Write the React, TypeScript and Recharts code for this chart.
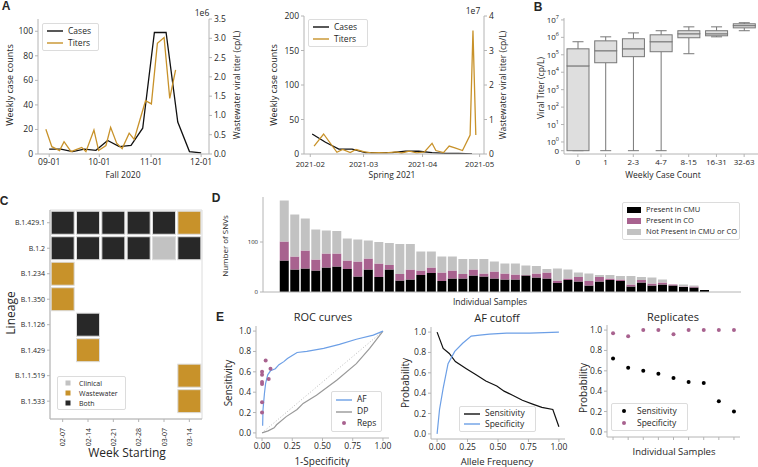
import {
  ComposedChart,
  BarChart,
  ScatterChart,
  Line,
  Bar,
  Scatter,
  XAxis,
  YAxis,
  ReferenceLine,
  ReferenceArea,
} from 'recharts';

const FONT = '"Open Sans", "DejaVu Sans", sans-serif';
const INK = '#262626';
const SPINE = '#b4b4b4';
const ORANGE = '#c8922a';
const PURPLE = '#a8628f';
const BLUE = '#6c9fe6';
const DARK = '#282828';
const LIGHT = '#c2c2c2';

// ---- A: fall 2020 (x = days since 2020-09-01)
const fallCaseDays = [0, 7, 14, 21, 28, 35, 42, 49, 56, 63, 70, 77, 84, 91];
const fallCases = [4, 4, 2, 4, 3, 11, 6, 7, 21, 99, 99, 26, 2, 1];
const fallTiterDays = [-2, 1.6, 6.2, 8.9, 13.1, 16.5, 19.5, 22, 26.8, 29.6, 34, 36.8, 40.4, 43.7, 47.9, 50.9, 54.3, 57.7, 61.2, 64.8, 68.8, 72.2, 75.7];
const fallTitersE6 = [0.64, 0.19, 0.09, 0.32, 0.06, 0.12, 0.17, 0.06, 0.62, 0.09, 0.22, 0.69, 0.28, 0.14, 0.54, 0.38, 0.88, 1.38, 1.3, 2.87, 3.02, 1.44, 2.18];
const fallTickDays = [0, 30, 61, 91];
const fallTickLabels = ['09-01', '10-01', '11-01', '12-01'];

// ---- A: spring 2021 (x = days since 2021-02-01)
const springCaseDays = [1, 8, 15, 22, 29, 36, 43, 50, 57, 64, 71, 78, 85];
const springCases = [29, 17, 7, 7, 2, 2, 2, 4, 4, 2, 1, 1, 0];
const springTiterDays = [2, 7, 14, 17, 21, 24, 28, 32, 36, 40, 45, 48, 52, 56, 60, 64, 66, 70, 73, 76, 80, 84, 85.5, 87];
const springTitersE7 = [0.23, 0.58, 0.05, 0.13, 0.04, 0.13, 0.07, 0.03, 0.04, 0.03, 0.06, 0.03, 0.08, 0.03, 0.06, 0.31, 0.1, 0.04, 0.23, 0.18, 0.1, 0.55, 3.58, 0.55];
const springTickDays = [0, 28, 59, 89];
const springTickLabels = ['2021-02', '2021-03', '2021-04', '2021-05'];

// ---- B: viral titer (cp/L) by weekly case count
const caseBins = ['0', '1', '2-3', '4-7', '8-15', '16-31', '32-63'];
const titerMin = [0, 0, 0, 0, 1.15e5, 1.07e6, 2.4e6];
const titerQ1 = [0, 3.5e4, 7.8e4, 1.5e5, 9.5e5, 1.23e6, 3.5e6];
const titerMedian = [2.3e4, 1.7e5, 2.2e5, 5.6e5, 1.6e6, 1.6e6, 4.7e6];
const titerQ3 = [2.2e5, 6.3e5, 8.3e5, 1.4e6, 2.4e6, 2.4e6, 6e6];
const titerMax = [5.6e5, 1.07e6, 1.8e6, 2.4e6, 4e6, 4e6, 6.9e6];

// ---- C: lineage detections
const lineages = ['B.1.429.1', 'B.1.2', 'B.1.234', 'B.1.350', 'B.1.126', 'B.1.429', 'B.1.1.519', 'B.1.533'];
const weeks = ['02-07', '02-14', '02-21', '02-28', '03-07', '03-14'];
// one letter per week: B = both, W = wastewater, C = clinical, . = none
const detections = ['BBBBBW', 'BBBBCB', 'W.....', 'W.....', '.B....', '.W....', '.....W', '.....W'];

// ---- D: SNVs per sample
const snvCmu = [63, 45, 47, 43, 49, 51, 46, 31, 45, 30, 45, 23, 25, 34, 38, 22, 27, 27, 33, 31, 27, 25, 25, 33, 29, 27, 18, 24, 21, 13, 21, 24, 22, 11, 19, 13, 15, 13, 10, 9, 4];
const snvCo = [38, 26, 36, 22, 28, 26, 17, 30, 22, 27, 9, 13, 20, 9, 11, 17, 16, 9, 12, 6, 14, 12, 10, 1, 8, 12, 5, 3, 9, 9, 9, 3, 3, 4, 5, 4, 4, 2, 1, 2, 0];
const snvOther = [82, 84, 64, 60, 46, 45, 44, 44, 36, 43, 44, 60, 51, 38, 32, 32, 28, 30, 21, 29, 20, 20, 22, 19, 15, 7, 24, 18, 9, 15, 4, 7, 7, 17, 6, 12, 6, 0, 4, 2, 0];

// ---- E: ROC curves
const afFpr = [0.005, 0.008, 0.02, 0.03, 0.047, 0.07, 0.11, 0.14, 0.18, 0.21, 0.25, 0.29, 0.37, 0.51, 0.64, 0.78, 0.92, 1.0];
const afTpr = [0.07, 0.23, 0.39, 0.49, 0.57, 0.61, 0.63, 0.67, 0.7, 0.73, 0.76, 0.79, 0.8, 0.83, 0.87, 0.92, 0.96, 1.0];
const dpFpr = [0, 0.05, 0.1, 0.12, 0.2, 0.29, 0.34, 0.45, 0.62, 0.78, 0.89, 1.0];
const dpTpr = [0, 0.02, 0.05, 0.08, 0.16, 0.23, 0.29, 0.37, 0.52, 0.68, 0.83, 1.0];
const repFpr = [0, 0, 0, 0, 0, 0, 0.03, 0.055, 0.07];
const repTpr = [0.2, 0.3, 0.48, 0.5, 0.57, 0.6, 0.71, 0.53, 0.63];

// ---- E: AF cutoff
const sensAf = [0, 0.05, 0.1, 0.15, 0.24, 0.32, 0.4, 0.49, 0.55, 0.62, 0.7, 0.79, 0.86, 0.95, 1.0];
const sensVal = [1.0, 0.84, 0.79, 0.71, 0.64, 0.58, 0.52, 0.47, 0.42, 0.38, 0.33, 0.29, 0.26, 0.24, 0.07];
const specAf = [0, 0.02, 0.05, 0.09, 0.145, 0.21, 0.28, 0.35, 0.43, 0.57, 0.76, 1.0];
const specVal = [0, 0.24, 0.45, 0.69, 0.81, 0.89, 0.96, 0.97, 0.98, 0.99, 0.99, 1.0];

// ---- E: replicates
const repSensitivity = [0.72, 0.63, 0.6, 0.57, 0.53, 0.49, 0.48, 0.3, 0.2];
const repSpecificity = [0.97, 0.94, 1.0, 1.0, 0.96, 1.0, 1.0, 1.0, 1.0];

const zip = (xs: number[], ys: number[]) => xs.map((x, i) => ({ x, y: ys[i] }));
const symlog = (v: number) => (v < 1 ? v * 0.5 : Math.log10(v) + 0.5);

const axis = (size: number) => ({
  axisLine: { stroke: SPINE },
  tickLine: { stroke: SPINE },
  tickSize: 3,
  tick: { fill: INK, fontSize: size },
  interval: 0 as const,
});

function Txt({ x, y, text, size = 9, rotate = false, weight = 400, family = FONT }: any) {
  return (
    <div
      style={{
        position: 'absolute',
        left: x,
        top: y,
        transform: `translate(-50%, -50%)${rotate ? ' rotate(-90deg)' : ''}`,
        fontSize: size,
        fontWeight: weight,
        fontFamily: family,
        whiteSpace: 'nowrap',
        lineHeight: 1,
      }}
    >
      {text}
    </div>
  );
}

type LegendItem = { label: string; color: string; mark: 'line' | 'dot' | 'square' | 'bar' };

function LegendBox({ left, top, width, height, items, size, markW = 16 }: any) {
  return (
    <div
      style={{
        position: 'absolute',
        left,
        top,
        width,
        height,
        boxSizing: 'border-box',
        border: '1px solid #dcdcdc',
        borderRadius: 2,
        background: '#fff',
        display: 'flex',
        flexDirection: 'column',
        justifyContent: 'space-evenly',
        padding: '0 4px',
        fontSize: size,
      }}
    >
      {(items as LegendItem[]).map((it) => (
        <div key={it.label} style={{ display: 'flex', alignItems: 'center', whiteSpace: 'nowrap', lineHeight: 1 }}>
          <svg width={markW} height={8} style={{ marginRight: 5, flex: 'none' }}>
            {it.mark === 'line' && <line x1={0} x2={markW} y1={4} y2={4} stroke={it.color} strokeWidth={1.4} />}
            {it.mark === 'dot' && <circle cx={markW / 2} cy={4} r={2} fill={it.color} />}
            {it.mark === 'square' && <rect x={markW / 2 - 2.5} y={1.5} width={5} height={5} fill={it.color} />}
            {it.mark === 'bar' && <rect x={0} y={1} width={markW} height={6} fill={it.color} />}
          </svg>
          {it.label}
        </div>
      ))}
    </div>
  );
}

function Panel({ left, top, children }: any) {
  return <div style={{ position: 'absolute', left, top }}>{children}</div>;
}

const WhiskerLow = (p: any) => {
  const cx = p.x + p.width / 2;
  const yb = p.y + p.height;
  return (
    <g>
      <line x1={cx} x2={cx} y1={p.y} y2={yb} stroke="#777" />
      <line x1={cx - p.width / 4} x2={cx + p.width / 4} y1={yb} y2={yb} stroke="#777" />
    </g>
  );
};
const WhiskerHigh = (p: any) => {
  const cx = p.x + p.width / 2;
  return (
    <g>
      <line x1={cx} x2={cx} y1={p.y} y2={p.y + p.height} stroke="#777" />
      <line x1={cx - p.width / 4} x2={cx + p.width / 4} y1={p.y} y2={p.y} stroke="#777" />
    </g>
  );
};
const BoxPart = (p: any) => <rect x={p.x} y={p.y} width={p.width} height={p.height} fill="#dedede" stroke="#777" />;

const LogTick = ({ x, y, payload }: any) => {
  const t = payload.value;
  if (t === 0)
    return (
      <text x={x} y={y} dy={3} textAnchor="end" fontSize={8} fill={INK}>
        0
      </text>
    );
  return (
    <text x={x} y={y} dy={3} textAnchor="end" fontSize={8} fill={INK}>
      10
      <tspan dy={-4} fontSize={5.5}>
        {Math.round(t - 0.5)}
      </tspan>
    </text>
  );
};

const WeekTick = ({ x, y, payload }: any) => (
  <g transform={`translate(${x},${y})`}>
    <text transform="rotate(-90)" x={-4} dy={2.5} textAnchor="end" fontSize={7} fill={INK}>
      {weeks[payload.value]}
    </text>
  </g>
);

const kindColor: Record<string, string> = { B: DARK, W: ORANGE, C: LIGHT };
const Cell = (p: any) => (
  <rect x={p.cx - 11.5} y={p.cy - 11.5} width={23} height={23} fill={kindColor[p.payload.kind]} stroke="#dcdcdc" strokeWidth={1} />
);
const Dot = (color: string) => (p: any) => <circle cx={p.cx} cy={p.cy} r={2} fill={color} />;

export default function App() {
  const fallCaseData = zip(fallCaseDays, fallCases);
  const fallTiterData = zip(fallTiterDays, fallTitersE6);
  const springCaseData = zip(springCaseDays, springCases);
  const springTiterData = zip(springTiterDays, springTitersE7);

  const boxRows = caseBins.map((bin, i) => ({
    bin,
    base: symlog(titerMin[i]),
    lowW: symlog(titerQ1[i]) - symlog(titerMin[i]),
    lowBox: symlog(titerMedian[i]) - symlog(titerQ1[i]),
    highBox: symlog(titerQ3[i]) - symlog(titerMedian[i]),
    highW: symlog(titerMax[i]) - symlog(titerQ3[i]),
  }));

  const cells = detections.flatMap((row, li) =>
    row.split('').map((k, wi) => ({ x: wi, y: li, kind: k })).filter((c) => c.kind !== '.')
  );

  const snvRows = snvCmu.map((c, i) => ({ idx: i, cmu: c, co: snvCo[i], other: snvOther[i] }));

  const probTicks = [0, 0.2, 0.4, 0.6, 0.8, 1.0];
  const fracTicks = [0, 0.25, 0.5, 0.75, 1.0];

  return (
    <div
      style={{
        position: 'absolute',
        left: 0,
        top: 0,
        width: 758,
        height: 467,
        background: '#fff',
        overflow: 'hidden',
        fontFamily: FONT,
        color: INK,
      }}
    >
      {/* A - fall 2020 */}
      <Panel left={0} top={0}>
        <ComposedChart width={240} height={175} margin={{ top: 19, right: 0, bottom: 0, left: 0 }}>
          <XAxis
            type="number"
            dataKey="x"
            domain={[-6.7, 95.7]}
            allowDataOverflow
            ticks={fallTickDays}
            tickFormatter={(v: number) => fallTickLabels[fallTickDays.indexOf(v)]}
            height={21}
            {...axis(8.5)}
          />
          <YAxis yAxisId="c" dataKey="y" domain={[0, 110]} allowDataOverflow ticks={[0, 20, 40, 60, 80, 100]} width={38} {...axis(8.5)} />
          <YAxis
            yAxisId="t"
            orientation="right"
            domain={[0, 3.5]}
            allowDataOverflow
            ticks={[0, 0.5, 1, 1.5, 2, 2.5, 3, 3.5]}
            tickFormatter={(v: number) => v.toFixed(1)}
            width={31}
            {...axis(8.5)}
          />
          <Line yAxisId="c" data={fallCaseData} dataKey="y" stroke="#111" strokeWidth={1.3} dot={false} isAnimationActive={false} />
          <Line yAxisId="t" data={fallTiterData} dataKey="y" stroke={ORANGE} strokeWidth={1.3} dot={false} isAnimationActive={false} />
        </ComposedChart>
      </Panel>
      <LegendBox
        left={42}
        top={23}
        width={57}
        height={28}
        size={8.5}
        items={[
          { label: 'Cases', color: '#111', mark: 'line' },
          { label: 'Titers', color: ORANGE, mark: 'line' },
        ]}
      />
      <Txt x={9} y={85} text="Weekly case counts" rotate size={9} />
      <Txt x={237} y={85} text="Wastewater viral titer (cp/L)" rotate size={8.5} />
      <Txt x={202} y={13} text="1e6" size={8.5} />
      <Txt x={123} y={175} text="Fall 2020" size={8.5} />

      {/* A - spring 2021 */}
      <Panel left={255} top={0}>
        <ComposedChart width={244} height={175} margin={{ top: 16, right: 0, bottom: 0, left: 0 }}>
          <XAxis
            type="number"
            dataKey="x"
            domain={[-3.3, 91.3]}
            allowDataOverflow
            ticks={springTickDays}
            tickFormatter={(v: number) => springTickLabels[springTickDays.indexOf(v)]}
            height={21}
            {...axis(7.8)}
            tickMargin={4}
          />
          <YAxis yAxisId="c" dataKey="y" domain={[0, 200]} allowDataOverflow ticks={[0, 50, 100, 150, 200]} width={49} {...axis(8.5)} />
          <YAxis yAxisId="t" orientation="right" domain={[0, 4]} allowDataOverflow ticks={[0, 1, 2, 3, 4]} width={15} {...axis(8.5)} />
          <Line yAxisId="c" data={springCaseData} dataKey="y" stroke="#111" strokeWidth={1.3} dot={false} isAnimationActive={false} />
          <Line yAxisId="t" data={springTiterData} dataKey="y" stroke={ORANGE} strokeWidth={1.3} dot={false} isAnimationActive={false} />
        </ComposedChart>
      </Panel>
      <LegendBox
        left={308}
        top={19}
        width={60}
        height={28}
        size={8.5}
        items={[
          { label: 'Cases', color: '#111', mark: 'line' },
          { label: 'Titers', color: ORANGE, mark: 'line' },
        ]}
      />
      <Txt x={273} y={85} text="Weekly case counts" rotate size={9} />
      <Txt x={503} y={85} text="Wastewater viral titer (cp/L)" rotate size={8.5} />
      <Txt x={473} y={11} text="1e7" size={8.5} />
      <Txt x={392} y={175} text="Spring 2021" size={8.5} />

      {/* B */}
      <Panel left={520} top={0}>
        <ComposedChart width={238} height={175} data={boxRows} margin={{ top: 18, right: 0, bottom: 0, left: 0 }}>
          <XAxis dataKey="bin" height={21} {...axis(8)} />
          <YAxis
            domain={[-0.19, 7.61]}
            allowDataOverflow
            ticks={[0, 0.5, 1.5, 2.5, 3.5, 4.5, 5.5, 6.5, 7.5]}
            width={44}
            {...axis(8)}
            tick={<LogTick />}
          />
          <Bar dataKey="base" stackId="b" barSize={22} fill="none" isAnimationActive={false} />
          <Bar dataKey="lowW" stackId="b" barSize={22} shape={WhiskerLow} isAnimationActive={false} />
          <Bar dataKey="lowBox" stackId="b" barSize={22} shape={BoxPart} isAnimationActive={false} />
          <Bar dataKey="highBox" stackId="b" barSize={22} shape={BoxPart} isAnimationActive={false} />
          <Bar dataKey="highW" stackId="b" barSize={22} shape={WhiskerHigh} isAnimationActive={false} />
        </ComposedChart>
      </Panel>
      <Txt x={541} y={88} text="Viral Titer (cp/L)" rotate size={8.5} />
      <Txt x={663} y={175} text="Weekly Case Count" size={8.5} />

      {/* C */}
      <Panel left={0} top={195}>
        <ScatterChart width={206} height={254} margin={{ top: 15, right: 4, bottom: 0, left: 0 }}>
          <XAxis type="number" dataKey="x" domain={[-0.5, 5.5]} allowDataOverflow ticks={[0, 1, 2, 3, 4, 5]} height={30} {...axis(7)} tick={<WeekTick />} />
          <YAxis
            type="number"
            dataKey="y"
            reversed
            domain={[-0.5, 7.7]}
            allowDataOverflow
            ticks={[0, 1, 2, 3, 4, 5, 6, 7]}
            tickFormatter={(v: number) => lineages[v]}
            width={50}
            {...axis(7)}
          />
          <ReferenceArea x1={-0.5} x2={5.5} y1={-0.5} y2={7.7} fill="none" stroke="#dcdcdc" ifOverflow="visible" />
          <Scatter data={cells} shape={Cell} isAnimationActive={false} />
        </ScatterChart>
      </Panel>
      <LegendBox
        left={57}
        top={376}
        width={69}
        height={34}
        size={7}
        markW={12}
        items={[
          { label: 'Clinical', color: LIGHT, mark: 'square' },
          { label: 'Wastewater', color: ORANGE, mark: 'square' },
          { label: 'Both', color: DARK, mark: 'square' },
        ]}
      />
      <Txt x={11} y={313} text="Lineage" rotate size={12} />
      <Txt x={127} y={453} text="Week Starting" size={12} />

      {/* D */}
      <Panel left={215} top={190}>
        <BarChart width={528} height={106} data={snvRows} margin={{ top: 7, right: 2, bottom: 0, left: 0 }}>
          <XAxis type="number" dataKey="idx" domain={[-2, 43.5]} allowDataOverflow tick={false} tickLine={false} axisLine={{ stroke: SPINE }} height={4} />
          <YAxis domain={[0, 190]} allowDataOverflow ticks={[0, 100]} width={48} {...axis(6)} />
          <Bar dataKey="cmu" stackId="s" fill="#000" barSize={9} isAnimationActive={false} />
          <Bar dataKey="co" stackId="s" fill={PURPLE} barSize={9} isAnimationActive={false} />
          <Bar dataKey="other" stackId="s" fill={LIGHT} barSize={9} isAnimationActive={false} />
        </BarChart>
      </Panel>
      <LegendBox
        left={622}
        top={202}
        width={118}
        height={38}
        size={7.5}
        markW={14}
        items={[
          { label: 'Present in CMU', color: '#000', mark: 'bar' },
          { label: 'Present in CO', color: PURPLE, mark: 'bar' },
          { label: 'Not Present in CMU or CO', color: LIGHT, mark: 'bar' },
        ]}
      />
      <Txt x={225} y={246} text="Number of SNVs" rotate size={8} />
      <Txt x={490} y={302} text="Individual Samples" size={8.5} />

      {/* E - ROC */}
      <Panel left={215} top={310}>
        <ComposedChart width={178} height={142} margin={{ top: 16, right: 4, bottom: 0, left: 0 }}>
          <XAxis type="number" dataKey="x" domain={[-0.05, 1.05]} allowDataOverflow ticks={fracTicks} tickFormatter={(v: number) => v.toFixed(2)} height={14} {...axis(8.5)} />
          <YAxis type="number" dataKey="y" domain={[-0.05, 1.05]} allowDataOverflow ticks={probTicks} tickFormatter={(v: number) => v.toFixed(1)} width={41} {...axis(8.5)} />
          <ReferenceLine segment={[{ x: 0, y: 0 }, { x: 1, y: 1 }]} stroke="#bbb" strokeDasharray="1 2" />
          <Line data={zip(dpFpr, dpTpr)} dataKey="y" stroke="#999" strokeWidth={1.2} dot={false} isAnimationActive={false} />
          <Line data={zip(afFpr, afTpr)} dataKey="y" stroke={BLUE} strokeWidth={1.2} dot={false} isAnimationActive={false} />
          <Scatter data={zip(repFpr, repTpr)} dataKey="y" shape={Dot(PURPLE)} isAnimationActive={false} />
        </ComposedChart>
      </Panel>
      <LegendBox
        left={331}
        top={391}
        width={51}
        height={41}
        size={8.5}
        markW={16}
        items={[
          { label: 'AF', color: BLUE, mark: 'line' },
          { label: 'DP', color: '#999', mark: 'line' },
          { label: 'Reps', color: PURPLE, mark: 'dot' },
        ]}
      />
      <Txt x={220} y={317} text="E" size={12} weight={700} family='"Liberation Sans", Arial, sans-serif' />
      <Txt x={323} y={316} text="ROC curves" size={11} />
      <Txt x={228} y={383} text="Sensitivity" rotate size={10} />
      <Txt x={322} y={461} text="1-Specificity" size={10} />

      {/* E - AF cutoff */}
      <Panel left={395} top={310}>
        <ComposedChart width={174} height={143} margin={{ top: 17, right: 4, bottom: 0, left: 0 }}>
          <XAxis type="number" dataKey="x" domain={[-0.05, 1.05]} allowDataOverflow ticks={fracTicks} tickFormatter={(v: number) => v.toFixed(2)} height={14} {...axis(8.5)} />
          <YAxis type="number" dataKey="y" domain={[-0.05, 1.05]} allowDataOverflow ticks={probTicks} tickFormatter={(v: number) => v.toFixed(1)} width={36} {...axis(8.5)} />
          <Line data={zip(sensAf, sensVal)} dataKey="y" stroke="#111" strokeWidth={1.2} dot={false} isAnimationActive={false} />
          <Line data={zip(specAf, specVal)} dataKey="y" stroke={BLUE} strokeWidth={1.2} dot={false} isAnimationActive={false} />
        </ComposedChart>
      </Panel>
      <LegendBox
        left={459}
        top={406}
        width={77}
        height={26}
        size={8.5}
        items={[
          { label: 'Sensitivity', color: '#111', mark: 'line' },
          { label: 'Specificity', color: BLUE, mark: 'line' },
        ]}
      />
      <Txt x={497} y={317} text="AF cutoff" size={11} />
      <Txt x={405} y={383} text="Probability" rotate size={10} />
      <Txt x={497} y={462} text="Allele Frequency" size={9.5} />

      {/* E - replicates */}
      <Panel left={570} top={310}>
        <ComposedChart width={174} height={141} margin={{ top: 15, right: 4, bottom: 0, left: 0 }}>
          <XAxis type="number" dataKey="x" domain={[-0.4, 8.4]} allowDataOverflow ticks={[0, 1, 2, 3, 4, 5, 6, 7, 8]} tickFormatter={() => ''} height={14} {...axis(8.5)} />
          <YAxis type="number" dataKey="y" domain={[-0.05, 1.05]} allowDataOverflow ticks={probTicks} tickFormatter={(v: number) => v.toFixed(1)} width={37} {...axis(8.5)} />
          <Scatter data={repSensitivity.map((y, x) => ({ x, y }))} dataKey="y" shape={Dot('#000')} isAnimationActive={false} />
          <Scatter data={repSpecificity.map((y, x) => ({ x, y }))} dataKey="y" shape={Dot(PURPLE)} isAnimationActive={false} />
        </ComposedChart>
      </Panel>
      <LegendBox
        left={611}
        top={403}
        width={77}
        height={28}
        size={8.5}
        items={[
          { label: 'Sensitivity', color: '#000', mark: 'dot' },
          { label: 'Specificity', color: PURPLE, mark: 'dot' },
        ]}
      />
      <Txt x={673} y={316} text="Replicates" size={11} />
      <Txt x={583} y={388} text="Probability" rotate size={10} />
      <Txt x={674} y={452} text="Individual Samples" size={9.5} />

      {/* panel letters */}
      <Txt x={6} y={6} text="A" size={12} weight={700} family='"Liberation Sans", Arial, sans-serif' />
      <Txt x={538} y={7} text="B" size={12} weight={700} family='"Liberation Sans", Arial, sans-serif' />
      <Txt x={4} y={201} text="C" size={12} weight={700} family='"Liberation Sans", Arial, sans-serif' />
      <Txt x={216} y={198} text="D" size={12} weight={700} family='"Liberation Sans", Arial, sans-serif' />
    </div>
  );
}
